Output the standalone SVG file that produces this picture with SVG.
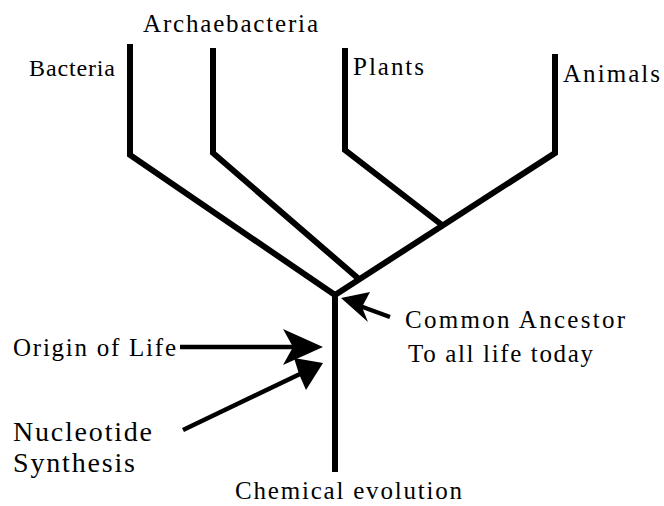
<svg xmlns="http://www.w3.org/2000/svg" width="664" height="506" viewBox="0 0 664 506">
<style>
text{font-family:'Liberation Serif','DejaVu Serif','Noto Serif','Times New Roman',serif;font-size:25px;fill:#000}
.br{fill:none;stroke:#000;stroke-width:6;stroke-linejoin:miter}
.ar{fill:none;stroke:#000;stroke-width:4.5}
</style>
<rect width="664" height="506" fill="#fff"/>
<g id="connectors">
<polyline class="br" points="130,44 130,155 335,295"/>
<polyline class="br" points="213,48 213,153 360,280"/>
<polyline class="br" points="345,48 345,150 442,225"/>
<polyline class="br" points="555,54 555,153 335,295"/>
<polyline class="br" points="335,295 335,472"/>
<line class="ar" x1="180" y1="347" x2="295" y2="347"/>
<polygon points="323,347 283,329 293,347 283,365" fill="#000"/>
<line class="ar" x1="183" y1="430" x2="300" y2="374"/>
<polygon points="323,363 294,358 299,374 306,390" fill="#000"/>
<line class="ar" x1="390" y1="317" x2="360" y2="306"/>
<polygon points="341,298 370,292 362,307 368,322" fill="#000"/>
</g>
<g id="bacteria"><text x="29" y="76" style="font-size:24px" textLength="86">Bacteria</text></g>
<g id="archaebacteria"><text x="143" y="32" textLength="175">Archaebacteria</text></g>
<g id="plants"><text x="353" y="75" textLength="71">Plants</text></g>
<g id="animals"><text x="563" y="82" textLength="97">Animals</text></g>
<g id="common-ancestor"><text x="405" y="328" textLength="220">Common Ancestor</text><text x="408" y="362" textLength="185">To all life today</text></g>
<g id="origin"><text x="13" y="356" textLength="163">Origin of Life</text></g>
<g id="nucleotide"><text x="13" y="441" style="font-size:28px" textLength="139">Nucleotide</text><text x="13" y="472" style="font-size:28px" textLength="122">Synthesis</text></g>
<g id="chemical"><text x="235" y="499" textLength="227">Chemical evolution</text></g>
</svg>
